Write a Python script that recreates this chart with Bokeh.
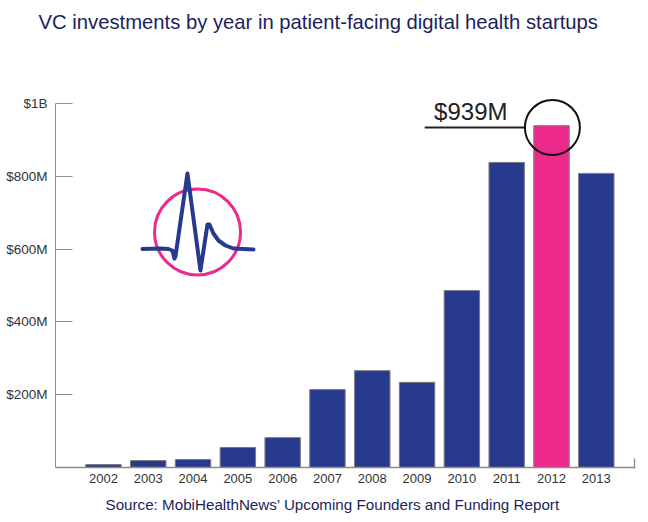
from bokeh.plotting import figure
from bokeh.models import Range1d, FixedTicker, Label, ColumnDataSource, Title
from bokeh.embed import file_html
from bokeh.resources import INLINE

years = ["2002", "2003", "2004", "2005", "2006", "2007", "2008", "2009", "2010", "2011", "2012", "2013"]
values_m = [8, 19, 22, 55, 82, 214, 266, 234, 486, 838, 939, 808]
highlight_year = "2012"
y_ticks = [200, 400, 600, 800, 1000]
y_tick_labels = ["$200M", "$400M", "$600M", "$800M", "$1B"]
peak_label = "$939M"
title_text = "VC investments by year in patient-facing digital health startups"
source_text = "Source: MobiHealthNews\u2019 Upcoming Founders and Funding Report"

NAVY = "#283a8e"
PINK = "#ec2a8c"
FONT = "Liberation Sans"

idx = list(range(len(years)))
colors = [PINK if y == highlight_year else NAVY for y in years]
src = ColumnDataSource(dict(x=idx, top=values_m, color=colors))

PX_PER_M = 0.364      # vertical scale
PX_PER_BAR = 44.8     # horizontal step
FRAME_TOP = 44
x_start, x_end = -1.07, 11.875
y_end = (467 - FRAME_TOP) / PX_PER_M
p = figure(width=648, height=522, output_backend="svg", toolbar_location=None,
           x_range=Range1d(x_start, x_end), y_range=Range1d(0, y_end),
           min_border_left=55, min_border_right=13, min_border_top=FRAME_TOP, min_border_bottom=55)
p.outline_line_color = None
p.xgrid.grid_line_color = None
p.ygrid.grid_line_color = None
p.background_fill_color = "white"

p.vbar(x="x", top="top", width=0.79, bottom=0, source=src, fill_color="color",
       line_color="#7a7a7a", line_width=1)

# y axis
p.yaxis.ticker = FixedTicker(ticks=y_ticks)
p.yaxis.bounds = (0, 1000)
p.yaxis.major_label_overrides = {t: l for t, l in zip(y_ticks, y_tick_labels)}
p.yaxis.major_tick_in = 17
p.yaxis.major_tick_out = 0
p.yaxis.minor_tick_line_color = None
p.yaxis.axis_line_color = "#8c8c8c"
p.yaxis.major_tick_line_color = "#8c8c8c"
p.yaxis.major_label_text_font = FONT
p.yaxis.major_label_text_font_size = "13.5px"
p.yaxis.major_label_text_color = "#333333"
p.yaxis.major_label_standoff = 8

# x axis
p.xaxis.ticker = FixedTicker(ticks=idx)
p.xaxis.major_label_overrides = {i: y for i, y in zip(idx, years)}
p.xaxis.major_tick_in = 0
p.xaxis.major_tick_out = 0
p.xaxis.minor_tick_line_color = None
p.xaxis.axis_line_color = "#8c8c8c"
p.xaxis.axis_line_width = 1.5
p.xaxis.major_label_text_font = FONT
p.xaxis.major_label_text_font_size = "13px"
p.xaxis.major_label_text_color = "#333333"
p.xaxis.major_label_standoff = 6

# small end tick on the baseline
p.segment(x0=[x_end - 0.02], x1=[x_end - 0.02], y0=[0], y1=[25], line_color="#8c8c8c", line_width=1.5)

# logo: circle with heartbeat
p.scatter(x=[2.1], y=[647], size=86, marker="circle", fill_color=None,
          line_color=PINK, line_width=3)
hb_px = [(142, 248.5), (160, 248), (168, 248.5), (172, 250), (174, 258), (175, 256),
         (187, 173), (200, 270), (207, 224), (209, 224), (213, 233), (218, 240),
         (225, 245), (233, 248), (253, 249)]
hb_x = [(px - 103) / PX_PER_BAR for px, py in hb_px]
hb_y = [(467 - py) / PX_PER_M for px, py in hb_px]
p.line(hb_x, hb_y, line_color=NAVY, line_width=4, line_join="round", line_cap="round")

# peak annotation
hi = years.index(highlight_year)
peak_v = values_m[hi]
p.segment(x0=[hi - 2.83], x1=[hi - 0.6], y0=[peak_v - 5], y1=[peak_v - 5], line_color="#222222", line_width=2)
p.scatter(x=[hi + 0.02], y=[peak_v - 5], size=55, marker="circle", fill_color=None,
          line_color="#111111", line_width=2)
p.add_layout(Label(x=hi - 2.62, y=peak_v + 2, text=peak_label, text_font=FONT,
                   text_font_size="24px", text_color="#222222", text_align="left",
                   text_baseline="bottom"))

# title above, source below
p.add_layout(Title(text=title_text, text_font=FONT, text_font_size="20.25px", text_color="#1b1f5c",
                   text_font_style="normal", align="left", offset=-17, standoff=20,
                   vertical_align="top"),
             "above")
p.add_layout(Title(text=source_text, text_font=FONT, text_font_size="15.2px", text_color="#1b1f5c",
                   text_font_style="normal", align="left", offset=50, standoff=16),
             "below")

open("out.html", "w").write(file_html(p, INLINE))
